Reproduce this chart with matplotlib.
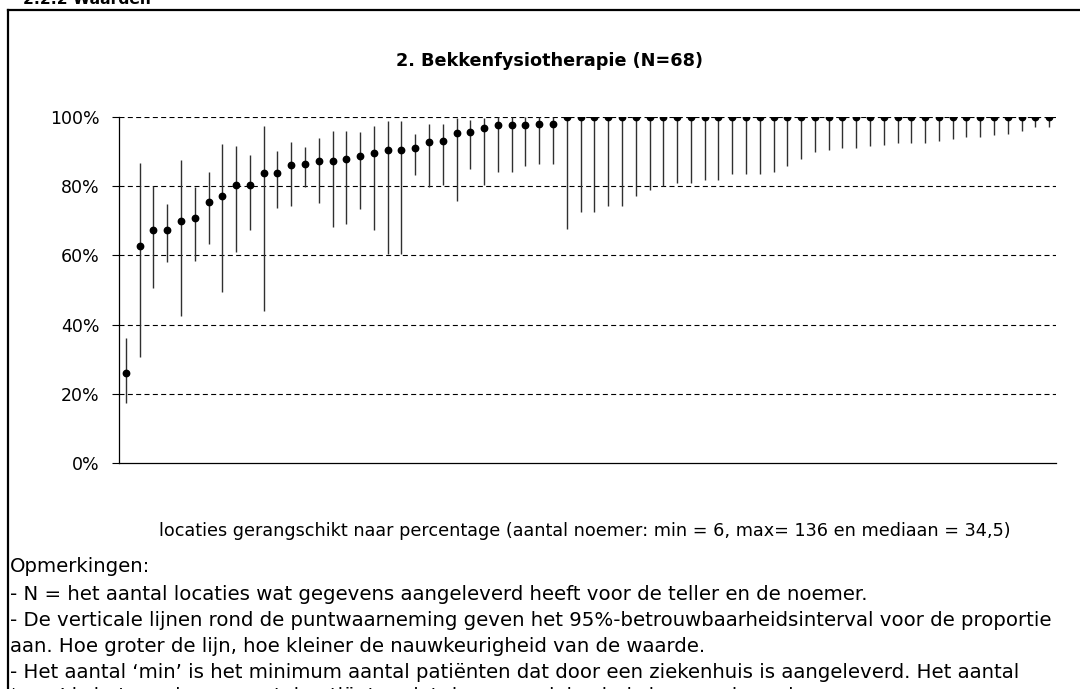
import matplotlib
matplotlib.use("Agg")
import matplotlib.pyplot as plt
from matplotlib.lines import Line2D
import numpy as np

plt.rcParams['font.family'] = ['DejaVu Sans']

# ---- data ----
percentages = [26.1, 62.7, 67.2, 67.2, 69.8, 70.8, 75.5, 77.3, 80.3, 80.3,
               83.9, 83.9, 86.0, 86.5, 87.4, 87.4, 87.9, 88.8, 89.6, 90.5,
               90.5, 91.0, 92.7, 93.1, 95.3, 95.8, 96.7, 97.6, 97.6, 97.6,
               98.1, 98.1] + [100.0] * 36
lower_ci = [17.4, 30.6, 50.5, 58.0, 42.6, 58.4, 63.3, 49.5, 61.0, 67.3,
            43.9, 73.8, 74.3, 79.7, 75.2, 68.1, 69.0, 73.5, 67.3, 60.3,
            60.3, 83.1, 79.7, 80.4, 75.6, 84.9, 80.4, 84.0, 84.0, 85.8,
            86.3, 86.3, 67.7, 72.5, 72.5, 74.2, 74.2, 77.3, 78.8, 80.1,
            80.9, 80.9, 81.8, 81.8, 83.5, 83.5, 83.5, 84.0, 85.8, 87.9,
            89.9, 90.6, 91.1, 91.1, 91.6, 92.0, 92.4, 92.4, 92.4, 93.2,
            93.7, 94.2, 94.2, 94.7, 95.2, 95.9, 97.2, 97.2]
upper_ci = [36.0, 86.8, 80.0, 74.8, 87.7, 79.7, 84.1, 92.1, 91.6, 89.0,
            97.4, 90.2, 92.9, 91.2, 93.8, 96.0, 96.0, 95.6, 97.4, 98.7,
            98.7, 95.2, 97.9, 97.9, 99.6, 99.1, 99.6, 99.9, 99.9, 100.0,
            100.0, 100.0] + [100.0] * 36
y_ticks = [0, 20, 40, 60, 80, 100]
y_ticklabels = ["0%", "20%", "40%", "60%", "80%", "100%"]

heading = "2.2.2 Waarden"
title = "2. Bekkenfysiotherapie (N=68)"
xlabel = "locaties gerangschikt naar percentage (aantal noemer: min = 6, max= 136 en mediaan = 34,5)"
notes = [
    "Opmerkingen:",
    "- N = het aantal locaties wat gegevens aangeleverd heeft voor de teller en de noemer.",
    "- De verticale lijnen rond de puntwaarneming geven het 95%-betrouwbaarheidsinterval voor de proportie",
    "aan. Hoe groter de lijn, hoe kleiner de nauwkeurigheid van de waarde.",
    "- Het aantal \u2018min\u2019 is het minimum aantal pati\u00ebnten dat door een ziekenhuis is aangeleverd. Het aantal",
    "\u2018max\u2019 is het maximum aantal pati\u00ebnten dat door een ziekenhuis is aangeleverd.",
]

W, H = 1080, 689
fig = plt.figure(figsize=(W / 100, H / 100), dpi=100)

def fx(px):
    return px / W

def fy(py):
    return 1 - py / H

# outer frame (left and top edges visible)
fig.add_artist(Line2D([fx(8), fx(8)], [fy(10), 0], transform=fig.transFigure, color='black', lw=1.6))
fig.add_artist(Line2D([fx(8), 1.0], [fy(10), fy(10)], transform=fig.transFigure, color='black', lw=1.6))

# partially visible heading
fig.text(fx(23), fy(4), heading, fontsize=11.2, fontweight='bold', va='baseline', ha='left')

ax = fig.add_axes([fx(119), fy(463), fx(1056) - fx(119), fy(117) - fy(463)])
x = np.arange(len(percentages))
p = np.array(percentages)
lo = np.array(lower_ci)
hi = np.array(upper_ci)

for t in y_ticks[1:]:
    ax.axhline(t, color='black', lw=0.8, dashes=(4.5, 3.0), zorder=1)

ax.vlines(x, lo, hi, color='#303030', lw=1.0, zorder=2)
ax.plot(x, p, 'o', color='black', markersize=4.6, zorder=3)

ax.set_xlim(-0.5, len(p) - 0.5)
ax.set_ylim(0, 100)
ax.set_yticks(y_ticks)
ax.set_yticklabels(y_ticklabels, fontsize=12.5)
ax.set_xticks([])
ax.tick_params(axis='y', direction='out', length=5, width=0.8, pad=9)
for s in ['top', 'right']:
    ax.spines[s].set_visible(False)
for s in ['left', 'bottom']:
    ax.spines[s].set_linewidth(0.9)

fig.text(fx(585), fy(531), xlabel, fontsize=12.7, ha='center', va='center')
fig.text(fx(550), fy(61), title, fontsize=12.7, fontweight='bold', ha='center', va='center')

note_y = [567, 594, 621, 646, 672, 696]
for yy, line in zip(note_y, notes):
    fig.text(fx(10), fy(yy), line, fontsize=14.2, ha='left', va='center')

fig.savefig("out.png", dpi=100)
